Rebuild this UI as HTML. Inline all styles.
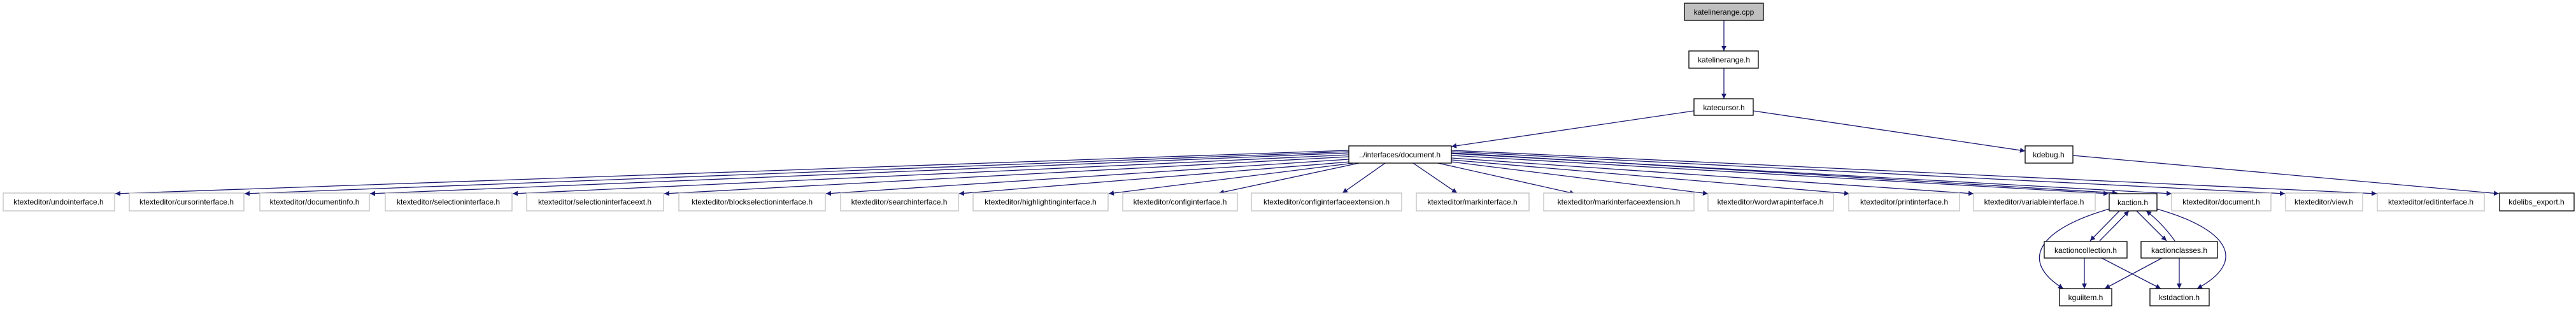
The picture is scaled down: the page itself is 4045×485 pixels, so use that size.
<!DOCTYPE html>
<html><head><meta charset="utf-8"><style>
html,body{margin:0;padding:0;background:#fff;}
svg{display:block;}
text{font-family:"Liberation Sans",Arial,sans-serif;font-size:12px;fill:#000;text-anchor:middle;}
.g{fill:#fff;stroke:#bfbfbf;stroke-width:1.3;}
.b{fill:#fff;stroke:#000;stroke-width:1.3;}
.e{stroke:#191970;stroke-width:1.3;fill:none;marker-end:url(#a);}
</style></head><body>
<svg width="4045" height="485" viewBox="0 0 4045 485" xmlns="http://www.w3.org/2000/svg">
<defs><marker id="a" viewBox="0 0 10 10" refX="10" refY="5" markerWidth="8" markerHeight="8" markerUnits="userSpaceOnUse" orient="auto"><path d="M0,0L10,5L0,10z" fill="#191970"/></marker></defs>

<!-- edges -->
<line class="e" x1="2707" y1="32" x2="2707" y2="80"/>
<line class="e" x1="2707" y1="107" x2="2707" y2="155"/>
<line class="e" x1="2660" y1="174" x2="2279" y2="230"/>
<line class="e" x1="2753" y1="174" x2="3180" y2="237"/>
<line class="e" x1="3255" y1="244" x2="3924" y2="304"/>

<line class="e" x1="2118" y1="236" x2="181" y2="304"/>
<line class="e" x1="2118" y1="238" x2="384" y2="304"/>
<line class="e" x1="2118" y1="240" x2="581" y2="304"/>
<line class="e" x1="2118" y1="243" x2="805" y2="304"/>
<line class="e" x1="2118" y1="246" x2="1043" y2="304"/>
<line class="e" x1="2118" y1="250" x2="1297" y2="304"/>
<line class="e" x1="2120" y1="254" x2="1506" y2="304"/>
<line class="e" x1="2125" y1="256" x2="1741" y2="304"/>
<line class="e" x1="2134" y1="256" x2="1914" y2="303"/>
<line class="e" x1="2175" y1="256" x2="2108" y2="303"/>
<line class="e" x1="2219" y1="256" x2="2288" y2="303"/>
<line class="e" x1="2258" y1="256" x2="2473" y2="304"/>
<line class="e" x1="2279" y1="254" x2="2682" y2="304"/>
<line class="e" x1="2279" y1="251" x2="2904" y2="304"/>
<line class="e" x1="2279" y1="248" x2="3099" y2="304"/>
<line class="e" x1="2279" y1="244" x2="3311" y2="304"/>
<line class="e" x1="2279" y1="241" x2="3410" y2="304"/>
<line class="e" x1="2279" y1="238" x2="3588" y2="304"/>
<line class="e" x1="2279" y1="236" x2="3732" y2="304"/>
<line class="e" x1="2279" y1="240" x2="3325" y2="303"/>

<!-- kaction cluster -->
<line class="e" x1="3328" y1="331" x2="3282" y2="378"/>
<path class="e" d="M3297,378 Q3320,355 3343,331"/>
<line class="e" x1="3355" y1="331" x2="3402" y2="378"/>
<path class="e" d="M3415,378 Q3395,350 3370,331"/>
<path class="e" d="M3312,328 C3200,360 3170,410 3240,453"/>
<path class="e" d="M3387,328 C3500,360 3530,410 3450,453"/>
<line class="e" x1="3273" y1="405" x2="3273" y2="453"/>
<line class="e" x1="3300" y1="405" x2="3393" y2="453"/>
<line class="e" x1="3395" y1="405" x2="3305" y2="453"/>
<line class="e" x1="3422" y1="405" x2="3422" y2="453"/>

<!-- top nodes -->
<rect x="2645" y="5" width="124" height="27" fill="#bfbfbf" stroke="#000" stroke-width="1.3"/>
<text x="2707" y="23">katelinerange.cpp</text>
<rect class="b" x="2652" y="80" width="109" height="27"/><text x="2707" y="98">katelinerange.h</text>
<rect class="b" x="2660" y="155" width="93" height="26"/><text x="2707" y="173">katecursor.h</text>
<rect class="b" x="2118" y="229" width="161" height="27"/><text x="2198" y="247">../interfaces/document.h</text>
<rect class="b" x="3180" y="229" width="75" height="27"/><text x="3217" y="247">kdebug.h</text>

<!-- middle row -->
<g>
<rect class="g" x="5" y="303" width="175" height="28"/><text x="92" y="321">ktexteditor/undointerface.h</text>
<rect class="g" x="203" y="303" width="180" height="28"/><text x="293" y="321">ktexteditor/cursorinterface.h</text>
<rect class="g" x="408" y="303" width="172" height="28"/><text x="494" y="321">ktexteditor/documentinfo.h</text>
<rect class="g" x="605" y="303" width="199" height="28"/><text x="704" y="321">ktexteditor/selectioninterface.h</text>
<rect class="g" x="827" y="303" width="215" height="28"/><text x="934" y="321">ktexteditor/selectioninterfaceext.h</text>
<rect class="g" x="1066" y="303" width="230" height="28"/><text x="1181" y="321">ktexteditor/blockselectioninterface.h</text>
<rect class="g" x="1320" y="303" width="185" height="28"/><text x="1412" y="321">ktexteditor/searchinterface.h</text>
<rect class="g" x="1528" y="303" width="212" height="28"/><text x="1634" y="321">ktexteditor/highlightinginterface.h</text>
<rect class="g" x="1763" y="303" width="180" height="28"/><text x="1853" y="321">ktexteditor/configinterface.h</text>
<rect class="g" x="1965" y="303" width="236" height="28"/><text x="2083" y="321">ktexteditor/configinterfaceextension.h</text>
<rect class="g" x="2224" y="303" width="177" height="28"/><text x="2312" y="321">ktexteditor/markinterface.h</text>
<rect class="g" x="2424" y="303" width="236" height="28"/><text x="2542" y="321">ktexteditor/markinterfaceextension.h</text>
<rect class="g" x="2682" y="303" width="197" height="28"/><text x="2780" y="321">ktexteditor/wordwrapinterface.h</text>
<rect class="g" x="2903" y="303" width="174" height="28"/><text x="2990" y="321">ktexteditor/printinterface.h</text>
<rect class="g" x="3099" y="303" width="191" height="28"/><text x="3194" y="321">ktexteditor/variableinterface.h</text>
<rect class="b" x="3312" y="304" width="75" height="27"/><text x="3349" y="322">kaction.h</text>
<rect class="g" x="3410" y="303" width="156" height="28"/><text x="3488" y="321">ktexteditor/document.h</text>
<rect class="g" x="3589" y="303" width="121" height="28"/><text x="3649" y="321">ktexteditor/view.h</text>
<rect class="g" x="3733" y="303" width="168" height="28"/><text x="3817" y="321">ktexteditor/editinterface.h</text>
<rect class="b" x="3925" y="303" width="117" height="28"/><text x="3983" y="321">kdelibs_export.h</text>
</g>

<!-- bottom -->
<rect class="b" x="3210" y="379" width="130" height="26"/><text x="3275" y="397">kactioncollection.h</text>
<rect class="b" x="3362" y="379" width="120" height="26"/><text x="3422" y="397">kactionclasses.h</text>
<rect class="b" x="3234" y="453" width="82" height="27"/><text x="3275" y="471">kguiitem.h</text>
<rect class="b" x="3376" y="453" width="93" height="27"/><text x="3422" y="471">kstdaction.h</text>
</svg>
</body></html>
